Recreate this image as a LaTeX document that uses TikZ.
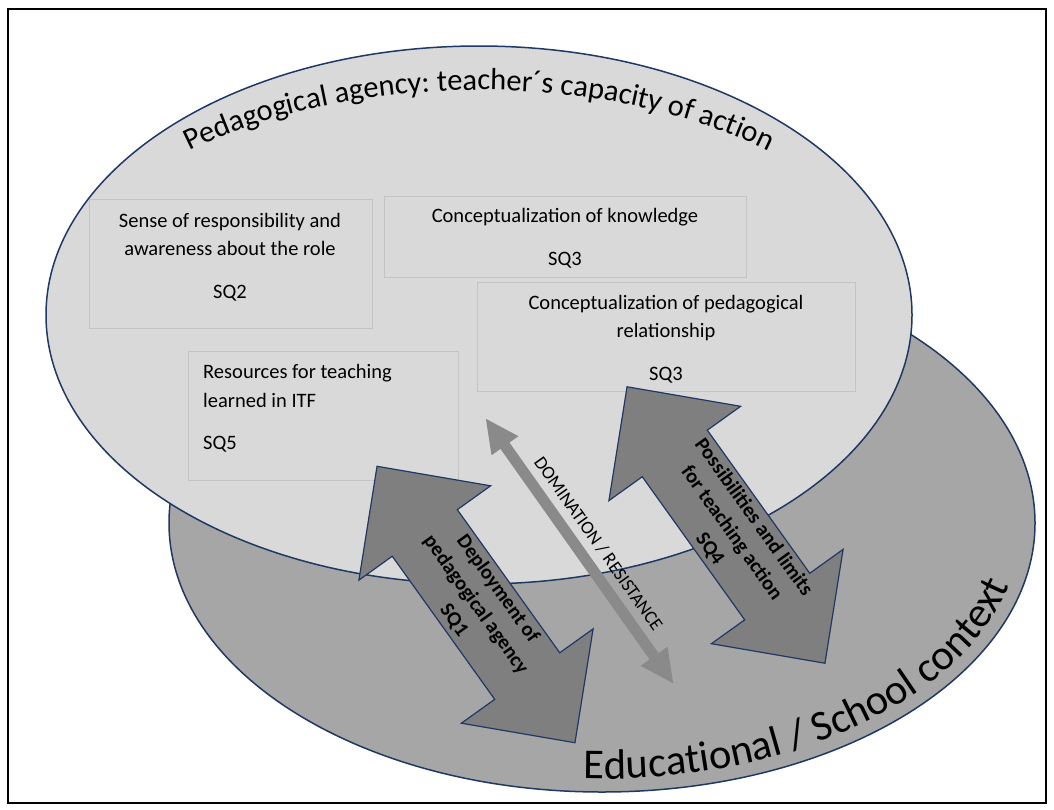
\documentclass[tikz,border=0pt]{standalone}
\usepackage{fontspec}
\setmainfont{Carlito}
\usetikzlibrary{decorations.text,shapes.geometric}

\definecolor{navy}{HTML}{203864}
\definecolor{innerfill}{HTML}{D9D9D9}
\definecolor{outerfill}{HTML}{A6A6A6}
\definecolor{arrowfill}{HTML}{7F7F7F}
\definecolor{thinfill}{HTML}{8A8A8A}
\definecolor{boxline}{HTML}{C3C3C3}

% double-headed block arrow: style, centre, angle, half length,
% shaft half width, head half width, head length
\newcommand\twohead[7]{%
  \begin{scope}[shift={#2}, rotate=#3]
    \path[#1] (-#4,0) -- (-#4+#7,#6) -- (-#4+#7,#5) -- (#4-#7,#5)
      -- (#4-#7,#6) -- (#4,0) -- (#4-#7,-#6) -- (#4-#7,-#5)
      -- (-#4+#7,-#5) -- (-#4+#7,-#6) -- cycle;
  \end{scope}}

\begin{document}
\begin{tikzpicture}[x=1pt,y=1pt,
  region/.style={ellipse, draw=navy, line width=1.5pt, inner sep=0pt,
    minimum width=866pt, minimum height=538pt},
  qbox/.style={rectangle, draw=boxline, line width=1pt, inner sep=0pt},
  qtext/.style={inner sep=0pt, font=\fontsize{20.5}{24}\selectfont},
  fatarrow/.style={fill=arrowfill, draw=navy, line width=1.2pt, line join=miter},
  thinarrow/.style={fill=thinfill},
  arrowlabel/.style={align=center, inner sep=0pt,
    font=\fontsize{20.5}{27}\selectfont\bfseries},
  sidelabel/.style={inner sep=0pt, font=\fontsize{18.5}{22}\selectfont},
]
\useasboundingbox (0,0) rectangle (1054,-809);
\fill[white] (0,0) rectangle (1054,-809);

% the two overlapping fields
\node[region, fill=outerfill] (context) at (602,-523) {};
\node[region, fill=innerfill] (agency) at (479,-315) {};

% curved headings
\path[decorate, decoration={text along path, text align=center,
    text={|\fontsize{30.5}{36}\selectfont|Pedagogical agency: teacher´s capacity of action}}]
  ([shift={(479,-319)}]150:426 and 229)
  arc[start angle=150, end angle=30, x radius=426, y radius=229];

\path[decorate, decoration={text along path, text align=left,
    text={|\fontsize{42.5}{50}\selectfont|Educational / School context}}]
  ([shift={(602,-523)}]-92.5:420 and 256)
  arc[start angle=-92.5, end angle=10, x radius=420, y radius=256];

% question boxes
\node[qbox, minimum width=283pt, minimum height=129pt] (resp) at (230.5,-263.5) {};
\node[qtext, anchor=base] (resp1) at (230,-227) {Sense of responsibility and};
\node[qtext, anchor=base] (resp2) at (230,-255) {awareness about the role};
\node[qtext, anchor=base] (resp3) at (230,-298) {SQ2};

\node[qbox, minimum width=362pt, minimum height=81pt] (know) at (565,-236.5) {};
\node[qtext, anchor=base] (know1) at (565,-222) {Conceptualization of knowledge};
\node[qtext, anchor=base] (know2) at (565,-265) {SQ3};

\node[qbox, minimum width=378pt, minimum height=109pt] (rel) at (666,-336.5) {};
\node[qtext, anchor=base] (rel1) at (666,-309) {Conceptualization of pedagogical};
\node[qtext, anchor=base] (rel2) at (666,-337) {relationship};
\node[qtext, anchor=base] (rel3) at (666,-380) {SQ3};

\node[qbox, minimum width=270pt, minimum height=129pt] (res) at (323,-415.5) {};
\node[qtext, anchor=base west] (res1) at (203,-378) {Resources for teaching};
\node[qtext, anchor=base west] (res2) at (203,-407) {learned in ITF};
\node[qtext, anchor=base west] (res3) at (203,-449) {SQ5};

% arrows between the two fields
\twohead{fatarrow}{(476,-604.5)}{-54.4}{170}{40}{81}{82}
\twohead{fatarrow}{(726,-525)}{-54.4}{170}{40}{81}{82}
\twohead{thinarrow}{(579.5,-551)}{-54.7}{162}{5.5}{16.5}{33}

\node[arrowlabel, rotate=-54.4] (deploy) at (476,-604.5)
  {Deployment of\\pedagogical agency\\SQ1};
\node[arrowlabel, rotate=-54.4] (limits) at (731.8,-533.1)
  {Possibilities and limits\\for teaching action\\SQ4};
\node[sidelabel, rotate=-54.7] (domin) at (598.5,-543.5) {DOMINATION / RESISTANCE};

% frame
\draw[line width=2pt] (8,-9) rectangle (1046,-803);
\end{tikzpicture}
\end{document}
